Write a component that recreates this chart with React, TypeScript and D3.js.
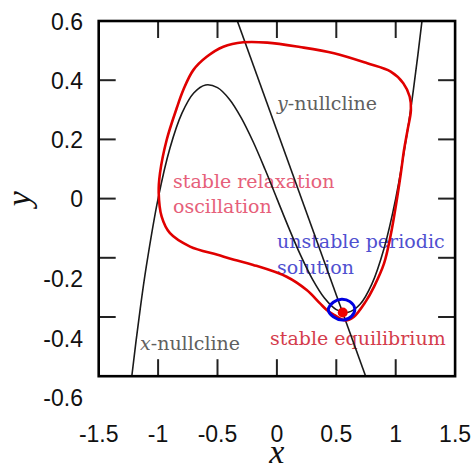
import React from "react";
import * as d3 from "d3";

const W = 474;
const H = 467;

const xTicks = [-1, -0.5, 0, 0.5, 1];
const yTicks = [-0.4, -0.2, 0, 0.2, 0.4];
const xTickLabels = [-1.5, -1, -0.5, 0, 0.5, 1, 1.5];
const yTickLabels = [0.6, 0.4, 0.2, 0, -0.2, -0.4, -0.6];

// x-nullcline (cubic-shaped curve)
const xNullcline: [number, number][] = [
  [-1.3, -0.897], [-1.22, -0.596], [-1.15, -0.371], [-1.1, -0.231], [-1.0, 0.0],
  [-0.9, 0.171], [-0.8, 0.288], [-0.7, 0.357], [-0.6, 0.384], [-0.5, 0.375],
  [-0.4, 0.336], [-0.3, 0.273], [-0.2, 0.192], [-0.1, 0.099], [0.0, 0.0],
  [0.1, -0.099], [0.2, -0.192], [0.3, -0.273], [0.4, -0.336], [0.5, -0.375],
  [0.6, -0.384], [0.7, -0.357], [0.8, -0.288], [0.9, -0.171], [1.0, 0.0],
  [1.1, 0.231], [1.15, 0.371], [1.22, 0.596], [1.3, 0.897],
];

// y-nullcline (straight line) end points
const yNullcline: [number, number][] = [
  [-0.333, 0.6],
  [0.747, -0.6],
];

// stable relaxation oscillation (limit cycle)
const relaxationCycle: [number, number][] = [
  [-0.995, 0.02], [-0.984, 0.086], [-0.928, 0.198], [-0.843, 0.306], [-0.788, 0.367],
  [-0.704, 0.434], [-0.591, 0.479], [-0.451, 0.513], [-0.283, 0.528], [-0.081, 0.527],
  [0.194, 0.512], [0.481, 0.491], [0.761, 0.457], [0.958, 0.429], [1.064, 0.39],
  [1.118, 0.344], [1.128, 0.299], [1.1, 0.232], [1.07, 0.164], [1.043, 0.085],
  [1.003, -0.02], [0.958, -0.123], [0.902, -0.219], [0.817, -0.298], [0.747, -0.348],
  [0.649, -0.399], [0.579, -0.412], [0.481, -0.393], [0.419, -0.376], [0.363, -0.354],
  [0.251, -0.309], [0.082, -0.264], [-0.199, -0.224], [-0.361, -0.207], [-0.5, -0.19],
  [-0.731, -0.162], [-0.9, -0.117], [-0.97, -0.061],
];

// unstable periodic solution
const unstableOrbit: [number, number][] = [
  [0.433, -0.376], [0.475, -0.35], [0.545, -0.34], [0.615, -0.348],
  [0.655, -0.371], [0.63, -0.397], [0.559, -0.41], [0.475, -0.399],
];

const equilibrium: [number, number] = [0.554, -0.385];

const PL = 98.7, PR = 455.1, PT = 21, PB = 376.2;

export default function App() {
  const x = d3.scaleLinear().domain([-1.5, 1.5]).range([PL, PR]);
  const y = d3.scaleLinear().domain([-0.6, 0.6]).range([PB, PT]);

  const open = d3.line<[number, number]>().x(d => x(d[0])).y(d => y(d[1])).curve(d3.curveCatmullRom);
  const closed = d3.line<[number, number]>().x(d => x(d[0])).y(d => y(d[1])).curve(d3.curveCatmullRomClosed);

  const tickLen = 17;
  const serif = "'DejaVu Serif', serif";
  const sans = "'Liberation Sans', Arial, sans-serif";

  return (
    <svg width={W} height={H} style={{ position: "absolute", left: 0, top: 0, background: "#fff" }}>
      <defs>
        <clipPath id="plot">
          <rect x={PL} y={PT} width={PR - PL} height={PB - PT} />
        </clipPath>
      </defs>

      {/* tick labels */}
      {yTickLabels.map(v => (
        <text key={"yl" + v} x={83} y={y(v) + (v < 0 ? 21 : 0) + 8.5} textAnchor="end"
          fontFamily={sans} fontSize={23} fill="#111">{v === 0 ? "0" : String(v)}</text>
      ))}
      {xTickLabels.map(v => (
        <text key={"xl" + v} x={x(v)} y={441.5} textAnchor="middle"
          fontFamily={sans} fontSize={23} fill="#111">{String(v)}</text>
      ))}

      {/* axis titles */}
      <text x={x(0)} y={463} textAnchor="middle" fontFamily="'Liberation Serif', serif"
        fontStyle="italic" fontSize={34} fill="#111">x</text>
      <text transform={`translate(30,${y(0)}) rotate(-90)`} textAnchor="middle"
        fontFamily="'Liberation Serif', serif" fontStyle="italic" fontSize={34} fill="#111">y</text>

      {/* annotations */}
      <g fontFamily={serif} fontSize={19}>
        <text x={277} y={110} fill="#606060"><tspan fontStyle="italic">y</tspan>-nullcline</text>
        <text x={140} y={350} fill="#606060"><tspan fontStyle="italic">x</tspan>-nullcline</text>
        <text x={173} y={188} fill="#e6607a">stable relaxation</text>
        <text x={173} y={213} fill="#e6607a">oscillation</text>
        <text x={277} y={248} fill="#5050d0">unstable periodic</text>
        <text x={277} y={274} fill="#5050d0">solution</text>
        <text x={270} y={345} fill="#d43c4c">stable equilibrium</text>
      </g>

      {/* curves */}
      <g clipPath="url(#plot)" fill="none">
        <path d={open(xNullcline) || ""} stroke="#1a1a1a" strokeWidth={1.6} />
        <path d={open(yNullcline) || ""} stroke="#1a1a1a" strokeWidth={1.6} />
        <path d={closed(relaxationCycle) || ""} stroke="#e00000" strokeWidth={2.6} />
        <path d={closed(unstableOrbit) || ""} stroke="#0000e0" strokeWidth={3} />
        <circle cx={x(equilibrium[0])} cy={y(equilibrium[1])} r={5} fill="#ee0000" />
      </g>

      {/* ticks */}
      <g stroke="#222" strokeWidth={2}>
        {xTicks.map(v => (
          <g key={"xt" + v}>
            <line x1={x(v)} x2={x(v)} y1={PB} y2={PB - tickLen} />
            <line x1={x(v)} x2={x(v)} y1={PT} y2={PT + tickLen} />
          </g>
        ))}
        {yTicks.map(v => (
          <g key={"yt" + v}>
            <line x1={PL} x2={PL + tickLen} y1={y(v)} y2={y(v)} />
            <line x1={PR} x2={PR - tickLen} y1={y(v)} y2={y(v)} />
          </g>
        ))}
      </g>

      {/* frame */}
      <rect x={PL} y={PT} width={PR - PL} height={PB - PT} fill="none" stroke="#000" strokeWidth={2.6} />
    </svg>
  );
}
